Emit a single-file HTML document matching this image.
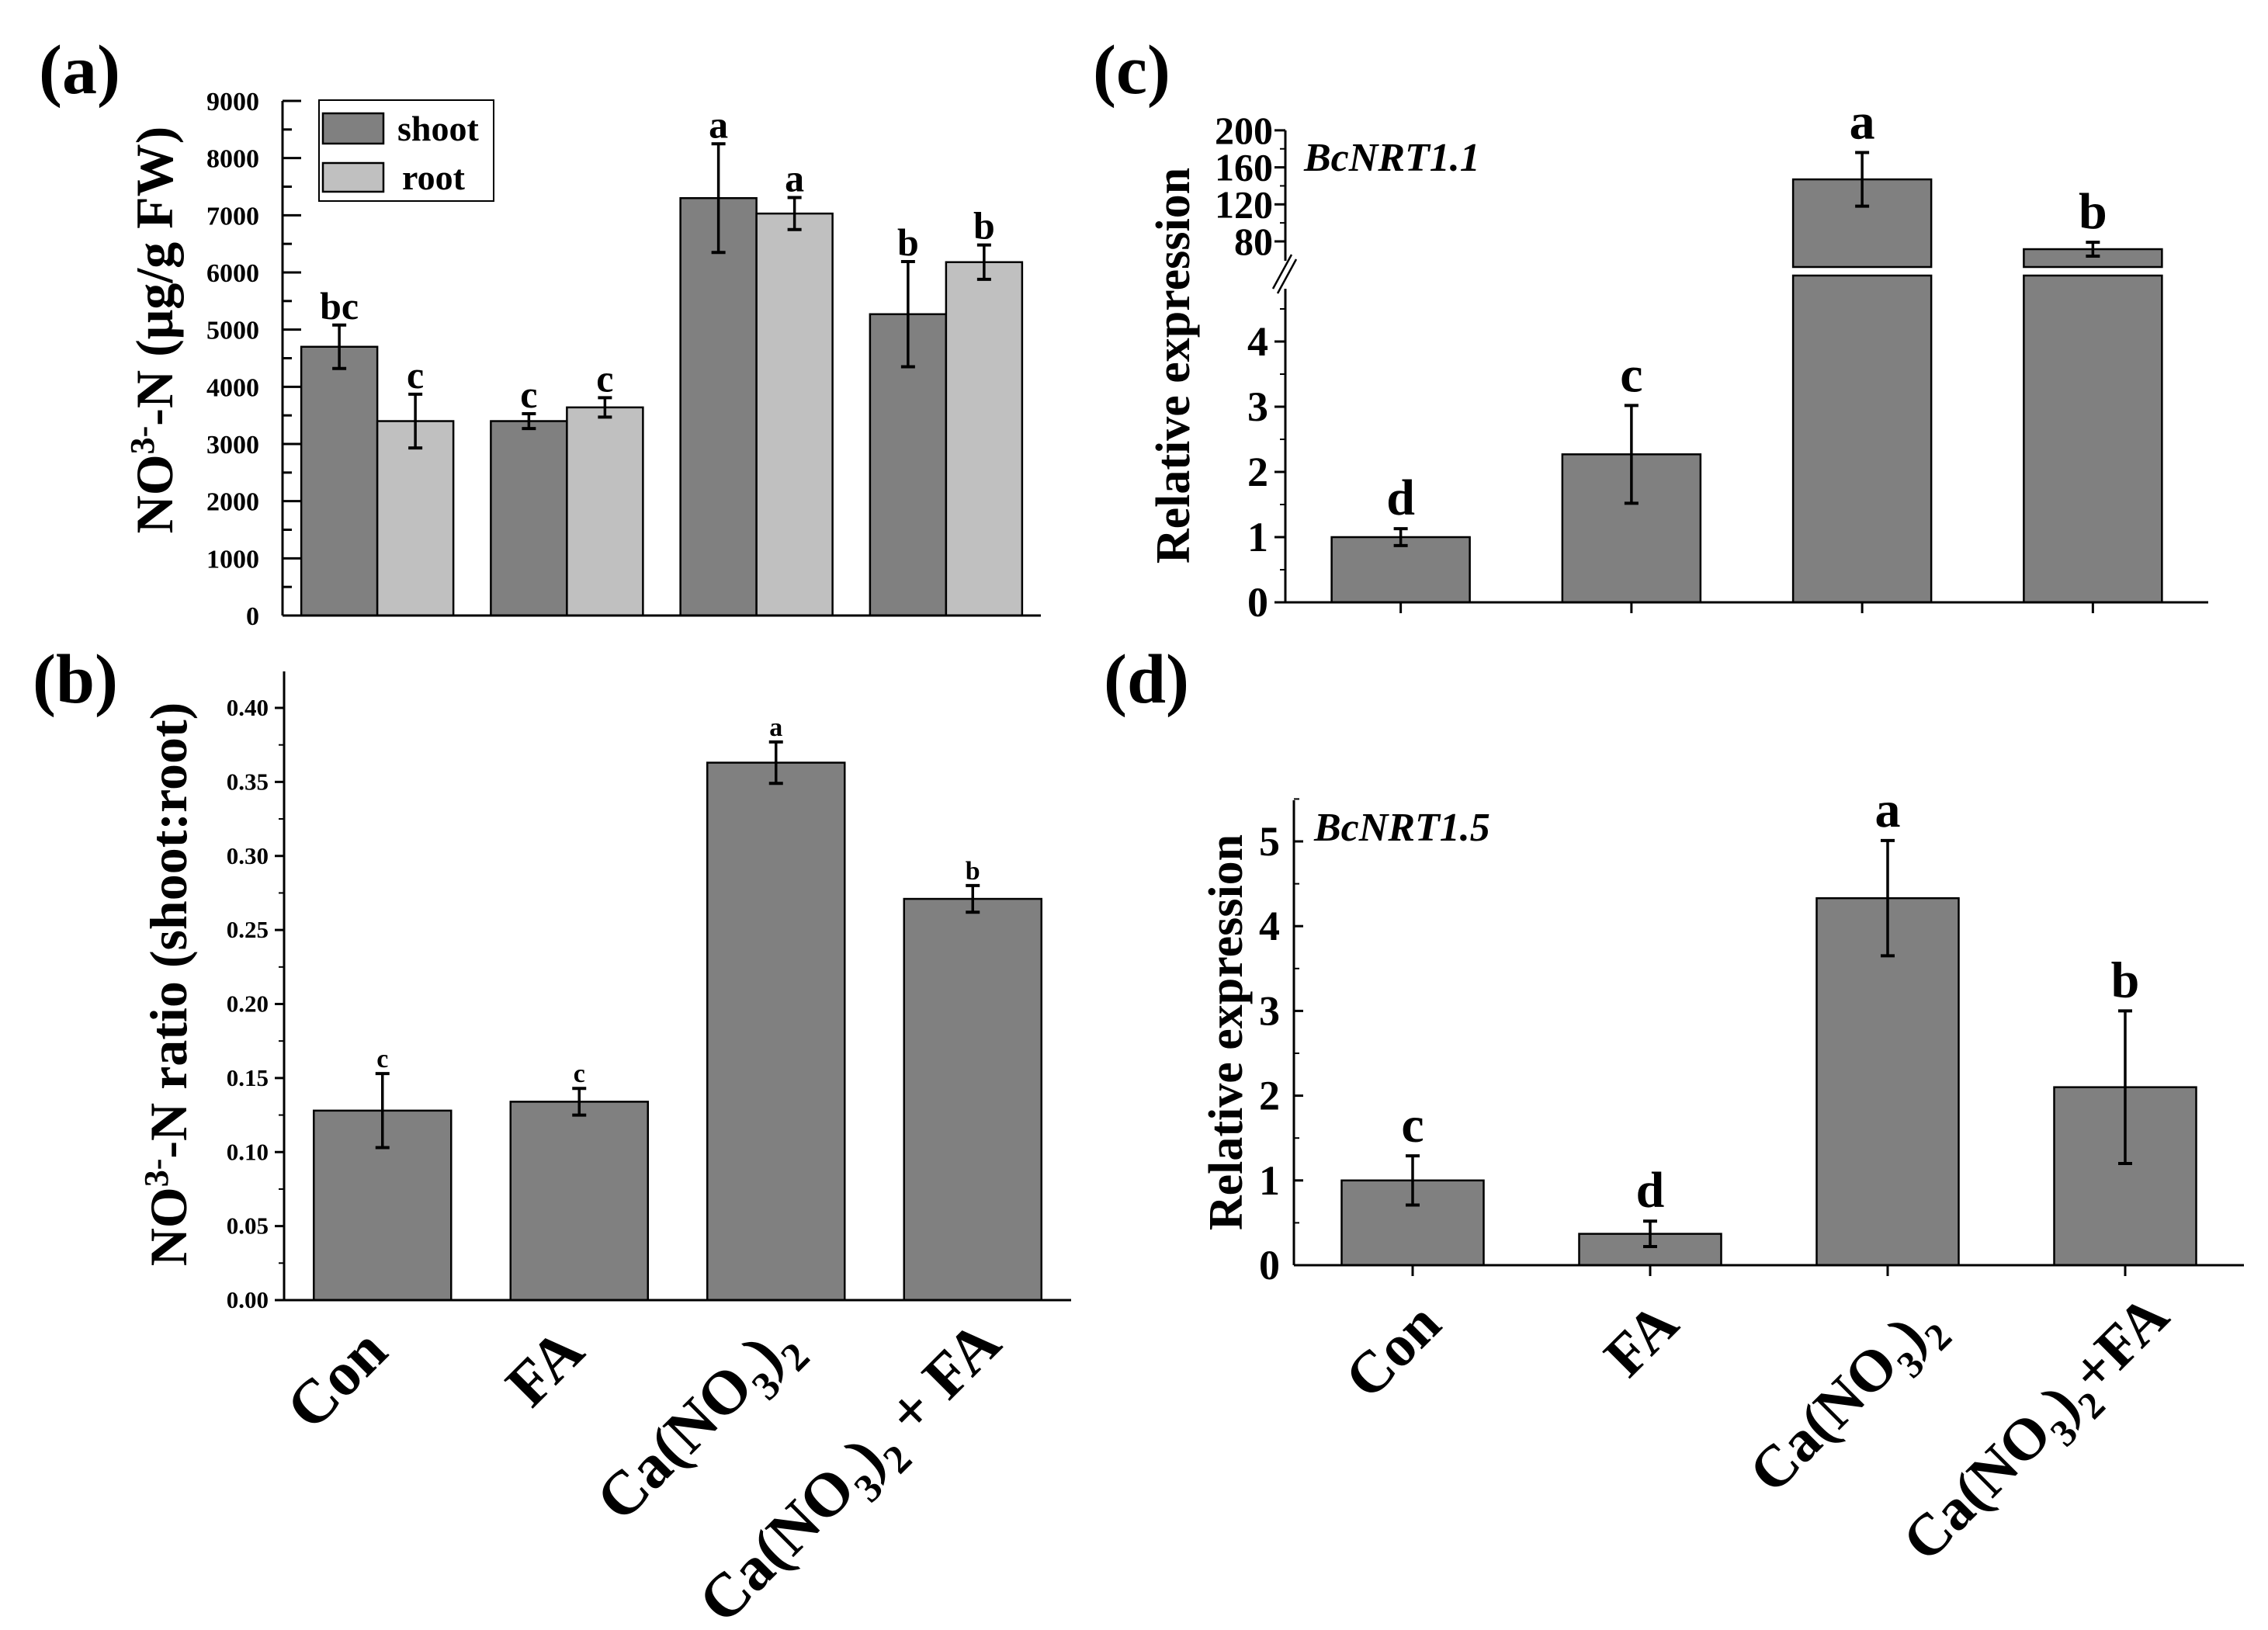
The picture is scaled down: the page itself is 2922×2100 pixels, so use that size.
<!DOCTYPE html>
<html><head><meta charset="utf-8"><style>
html,body{margin:0;padding:0;background:#fff}
svg{display:block}
text{font-family:"Liberation Serif",serif;font-weight:bold;fill:#000}
</style></head><body>
<svg id="fig" width="2922" height="2100" viewBox="0 0 2922 2100" xmlns="http://www.w3.org/2000/svg">
<text x="50" y="120" font-size="90">(a)</text>
<text x="1408" y="120" font-size="90">(c)</text>
<text x="42" y="905" font-size="90">(b)</text>
<text x="1422" y="905" font-size="90">(d)</text>
<g id="ga"></g>
<g id="gb"></g>
<g id="gc"></g>
<g id="gd"></g>
</svg>
<script>
// ---- data ----
const categories = ["Con", "FA", "Ca(NO3)2", "Ca(NO3)2+FA"];
const aTicks = [0,1000,2000,3000,4000,5000,6000,7000,8000,9000];
const aShoot = [4700, 3400, 7300, 5270];
const aShootErr = [380, 130, 950, 920];
const aRoot = [3400, 3640, 7030, 6180];
const aRootErr = [470, 170, 280, 300];
const aShootSig = ["bc","c","a","b"];
const aRootSig = ["c","c","a","b"];
const bTicks = [0,0.05,0.10,0.15,0.20,0.25,0.30,0.35,0.40];
const bVals = [0.128, 0.134, 0.363, 0.271];
const bErr = [0.025, 0.009, 0.014, 0.009];
const bSig = ["c","c","a","b"];
const cTicksLow = [0,1,2,3,4];
const cTicksHigh = [80,120,160,200];
const cVals = [1.0, 2.27, 147, 71.6];
const cErr = [0.13, 0.75, 29, 7.5];
const cSig = ["d","c","a","b"];
const dTicks = [0,1,2,3,4,5];
const dVals = [1.0, 0.37, 4.33, 2.1];
const dErr = [0.29, 0.15, 0.68, 0.9];
const dSig = ["c","d","a","b"];

const NS = "http://www.w3.org/2000/svg";
function mk(parent, tag, attrs, txt) {
  const e = document.createElementNS(NS, tag);
  for (const k in attrs) e.setAttribute(k, attrs[k]);
  if (txt !== undefined) e.textContent = txt;
  parent.appendChild(e);
  return e;
}
function line(p, x1, y1, x2, y2, w, name) {
  const l = mk(p, "line", {x1:x1, y1:y1, x2:x2, y2:y2, stroke:"#000", "stroke-width":w});
  
  
  return l;
}
function bar(p, x, y0, y1, w, fill, name) {
  const r = mk(p, "rect", {x:x, y:Math.min(y0,y1), width:w, height:Math.abs(y1-y0), fill:fill, stroke:"#000", "stroke-width":2.5});
  
  
  return r;
}
function err(p, cx, yHi, yLo, name) {
  const g = mk(p, "g", {});
  
  
  mk(g, "line", {x1:cx, y1:yHi, x2:cx, y2:yLo, stroke:"#000", "stroke-width":3.5});
  mk(g, "line", {x1:cx-9, y1:yHi, x2:cx+9, y2:yHi, stroke:"#000", "stroke-width":4});
  mk(g, "line", {x1:cx-9, y1:yLo, x2:cx+9, y2:yLo, stroke:"#000", "stroke-width":4});
}
function txt(p, x, y, s, size, anchor, name, extra) {
  const t = mk(p, "text", Object.assign({x:x, y:y, "font-size":size, "text-anchor":anchor||"middle"}, extra||{}), s);
  
  
  return t;
}
function catLabel(p, x, y, i, size, name, plusText) {
  const t = mk(p, "text", {x:x, y:y, "font-size":size, "text-anchor":"end", transform:`rotate(-45 ${x} ${y})`});
  
  
  const c = categories[i];
  const parts = c.match(/^Ca\(NO3\)2(.*)$/);
  if (!parts) { t.textContent = c; return t; }
  const add = (s, dy, sz) => { const ts = mk(t, "tspan", {dy:dy}); if (sz) ts.setAttribute("font-size", sz); ts.textContent = s; };
  add("Ca(NO", 0);
  add("3", size*0.28, size*0.65);
  add(")", -size*0.28);
  add("2", size*0.28, size*0.65);
  if (parts[1]) add(plusText || parts[1], -size*0.28);
  return t;
}

// ---- panel a ----
(function(){
  const g = document.getElementById("ga");
  const X0 = 364, X1 = 1341, Y0 = 793, Ytop = 130, vmax = 9000;
  const y = v => Y0 - (v / vmax) * (Y0 - Ytop);
  const slot = (X1 - X0) / categories.length, bw = 98;
  categories.forEach((c, i) => {
    const gx = X0 + slot * i + slot / 2;
    bar(g, gx - bw, Y0, y(aShoot[i]), bw, "#808080", "bar-shoot-" + i);
    bar(g, gx, Y0, y(aRoot[i]), bw, "#c0c0c0", "bar-root-" + i);
    err(g, gx - bw/2, y(aShoot[i] + aShootErr[i]), y(aShoot[i] - aShootErr[i]), "error-shoot-" + i);
    err(g, gx + bw/2, y(aRoot[i] + aRootErr[i]), y(aRoot[i] - aRootErr[i]), "error-root-" + i);
    txt(g, gx - bw/2, y(aShoot[i] + aShootErr[i]) - 8, aShootSig[i], 50, "middle", "sig-shoot-" + i);
    txt(g, gx + bw/2, y(aRoot[i] + aRootErr[i]) - 8, aRootSig[i], 50, "middle", "sig-root-" + i);
  });
  line(g, X0, Ytop, X0, Y0, 3, "y-axis-a");
  line(g, X0, Y0, X1, Y0, 3, "x-axis-a");
  aTicks.forEach((v, i) => {
    line(g, X0, y(v), X0 + 24, y(v), 3, "tick-a");
    if (i < aTicks.length - 1) line(g, X0, y(v + 500), X0 + 12, y(v + 500), 3, "minor-tick-a");
    txt(g, X0 - 30, y(v) + 12, String(v), 34, "end", "tick-label-a");
  });
  const yl = mk(g, "text", {x:0, y:0, "font-size":68, "text-anchor":"middle", transform:"translate(222,425) rotate(-90)"});
  
  
  yl.innerHTML = 'NO<tspan dy="-24" font-size="44">3-</tspan><tspan dy="24">-N (μg/g FW)</tspan>';
  const lg = mk(g, "g", {});
  
  
  mk(lg, "rect", {x:411, y:129, width:225, height:130, fill:"#fff", stroke:"#000", "stroke-width":2});
  bar(lg, 416, 146, 185, 78, "#808080", "legend-swatch-shoot");
  bar(lg, 416, 210, 247, 78, "#c0c0c0", "legend-swatch-root");
  txt(lg, 512, 181, "shoot", 46, "start", "legend-label-shoot");
  txt(lg, 518, 244, "root", 46, "start", "legend-label-root");
})();

// ---- panel b ----
(function(){
  const g = document.getElementById("gb");
  const X0 = 366, X1 = 1380, Y0 = 1675, Ytop = 865;
  const y = v => Y0 - v * (Y0 - 912) / 0.40;
  const slot = (X1 - X0) / categories.length, bw = 177;
  categories.forEach((c, i) => {
    const cx = X0 + slot * i + slot / 2;
    bar(g, cx - bw/2, Y0, y(bVals[i]), bw, "#808080", "bar-ratio-" + i);
    err(g, cx, y(bVals[i] + bErr[i]), y(bVals[i] - bErr[i]), "error-ratio-" + i);
    txt(g, cx, y(bVals[i] + bErr[i]) - 8, bSig[i], 34, "middle", "sig-ratio-" + i);
  });
  line(g, X0, Ytop, X0, Y0, 3, "y-axis-b");
  line(g, X0, Y0, X1, Y0, 3, "x-axis-b");
  bTicks.forEach((v, i) => {
    line(g, X0 - 12, y(v), X0, y(v), 3, "tick-b");
    if (i < bTicks.length - 1) line(g, X0 - 7, y(v + 0.025), X0, y(v + 0.025), 2, "minor-tick-b");
    txt(g, X0 - 20, y(v) + 10, v.toFixed(2), 31, "end", "tick-label-b");
  });
  const yl = mk(g, "text", {x:0, y:0, "font-size":68, "text-anchor":"middle", transform:"translate(240,1268) rotate(-90)"});
  
  
  yl.innerHTML = 'NO<tspan dy="-24" font-size="44">3-</tspan><tspan dy="24">-N ratio (shoot:root)</tspan>';
  const offs = [[10,20],[10,20],[30,10],[40,10]];
  categories.forEach((c, i) => {
    const cx = X0 + slot * i + slot / 2;
    catLabel(g, cx + offs[i][0], Y0 + offs[i][1] + 50, i, 80, "x-label-" + i, " + FA");
  });
})();

// ---- panel c (broken axis) ----
(function(){
  const g = document.getElementById("gc");
  const X0 = 1656, X1 = 2845, Y0 = 776;
  const yLow = v => Y0 - v * 84;
  const yHigh = v => 311 - (v - 80) * 47.7 / 40;
  const y = v => v <= 4.8 ? yLow(v) : yHigh(v);
  const gapTop = 344, gapBot = 355;
  const slot = (X1 - X0) / categories.length, bw = 178;
  categories.forEach((c, i) => {
    const cx = X0 + slot * i + slot / 2;
    const v = cVals[i];
    if (v <= 4.8) {
      bar(g, cx - bw/2, Y0, yLow(v), bw, "#808080", "bar-nrt11-" + i);
    } else {
      bar(g, cx - bw/2, Y0, gapBot, bw, "#808080", "bar-nrt11-lower-" + i);
      bar(g, cx - bw/2, gapTop, yHigh(v), bw, "#808080", "bar-nrt11-upper-" + i);
    }
    err(g, cx, y(v + cErr[i]), y(v - cErr[i]), "error-nrt11-" + i);
    txt(g, cx, y(v + cErr[i]) - 18, cSig[i], 66, "middle", "sig-nrt11-" + i);
    line(g, cx, Y0, cx, Y0 + 14, 3, "x-tick-c");
  });
  line(g, X0, 168, X0, 336, 3, "y-axis-c-upper");
  line(g, X0, 372, X0, Y0, 3, "y-axis-c-lower");
  line(g, 1640, 372, 1664, 328, 2.5, "axis-break-1");
  line(g, 1646, 378, 1670, 334, 2.5, "axis-break-2");
  line(g, X0, Y0, X1, Y0, 3, "x-axis-c");
  cTicksLow.forEach(v => {
    line(g, X0 - 14, yLow(v), X0, yLow(v), 3, "tick-c-low");
    line(g, X0 - 7, yLow(v + 0.5), X0, yLow(v + 0.5), 2, "minor-tick-c-low");
    txt(g, X0 - 22, yLow(v) + 18, String(v), 54, "end", "tick-label-c-low");
  });
  cTicksHigh.forEach(v => {
    line(g, X0 - 14, yHigh(v), X0, yHigh(v), 3, "tick-c-high");
    if (v < 200) line(g, X0 - 7, yHigh(v + 20), X0, yHigh(v + 20), 2, "minor-tick-c-high");
    txt(g, X0 - 16, yHigh(v) + 17, String(v), 50, "end", "tick-label-c-high");
  });
  txt(g, 1680, 220, "BcNRT1.1", 52, "start", "gene-label-c", {"font-style":"italic"});
  txt(g, 0, 0, "Relative expression", 62, "middle", "y-axis-title-c", {transform:"translate(1532,471) rotate(-90)"});
})();

// ---- panel d ----
(function(){
  const g = document.getElementById("gd");
  const X0 = 1667, X1 = 2891, Y0 = 1630, Ytop = 1031;
  const y = v => Y0 - v * 109.2;
  const slot = (X1 - X0) / categories.length, bw = 183;
  categories.forEach((c, i) => {
    const cx = X0 + slot * i + slot / 2;
    bar(g, cx - bw/2, Y0, y(dVals[i]), bw, "#808080", "bar-nrt15-" + i);
    err(g, cx, y(dVals[i] + dErr[i]), y(dVals[i] - dErr[i]), "error-nrt15-" + i);
    txt(g, cx, y(dVals[i] + dErr[i]) - 18, dSig[i], 66, "middle", "sig-nrt15-" + i);
    line(g, cx, Y0, cx, Y0 + 14, 3, "x-tick-d");
  });
  line(g, X0, Ytop, X0, Y0, 3, "y-axis-d");
  line(g, X0, Y0, X1, Y0, 3, "x-axis-d");
  dTicks.forEach((v, i) => {
    line(g, X0, y(v), X0 + 12, y(v), 3, "tick-d");
    line(g, X0, y(v + 0.5), X0 + 7, y(v + 0.5), 2, "minor-tick-d");
    txt(g, X0 - 18, y(v) + 18, String(v), 54, "end", "tick-label-d");
  });
  txt(g, 1693, 1083, "BcNRT1.5", 52, "start", "gene-label-d", {"font-style":"italic"});
  txt(g, 0, 0, "Relative expression", 62, "middle", "y-axis-title-d", {transform:"translate(1600,1330) rotate(-90)"});
  const offs = [[40,40],[40,40],[70,40],[60,30]];
  categories.forEach((c, i) => {
    const cx = X0 + slot * i + slot / 2;
    catLabel(g, cx + offs[i][0], Y0 + offs[i][1] + 40, i, 76, "x-label-d-" + i);
  });
})();
</script>
</body></html>
